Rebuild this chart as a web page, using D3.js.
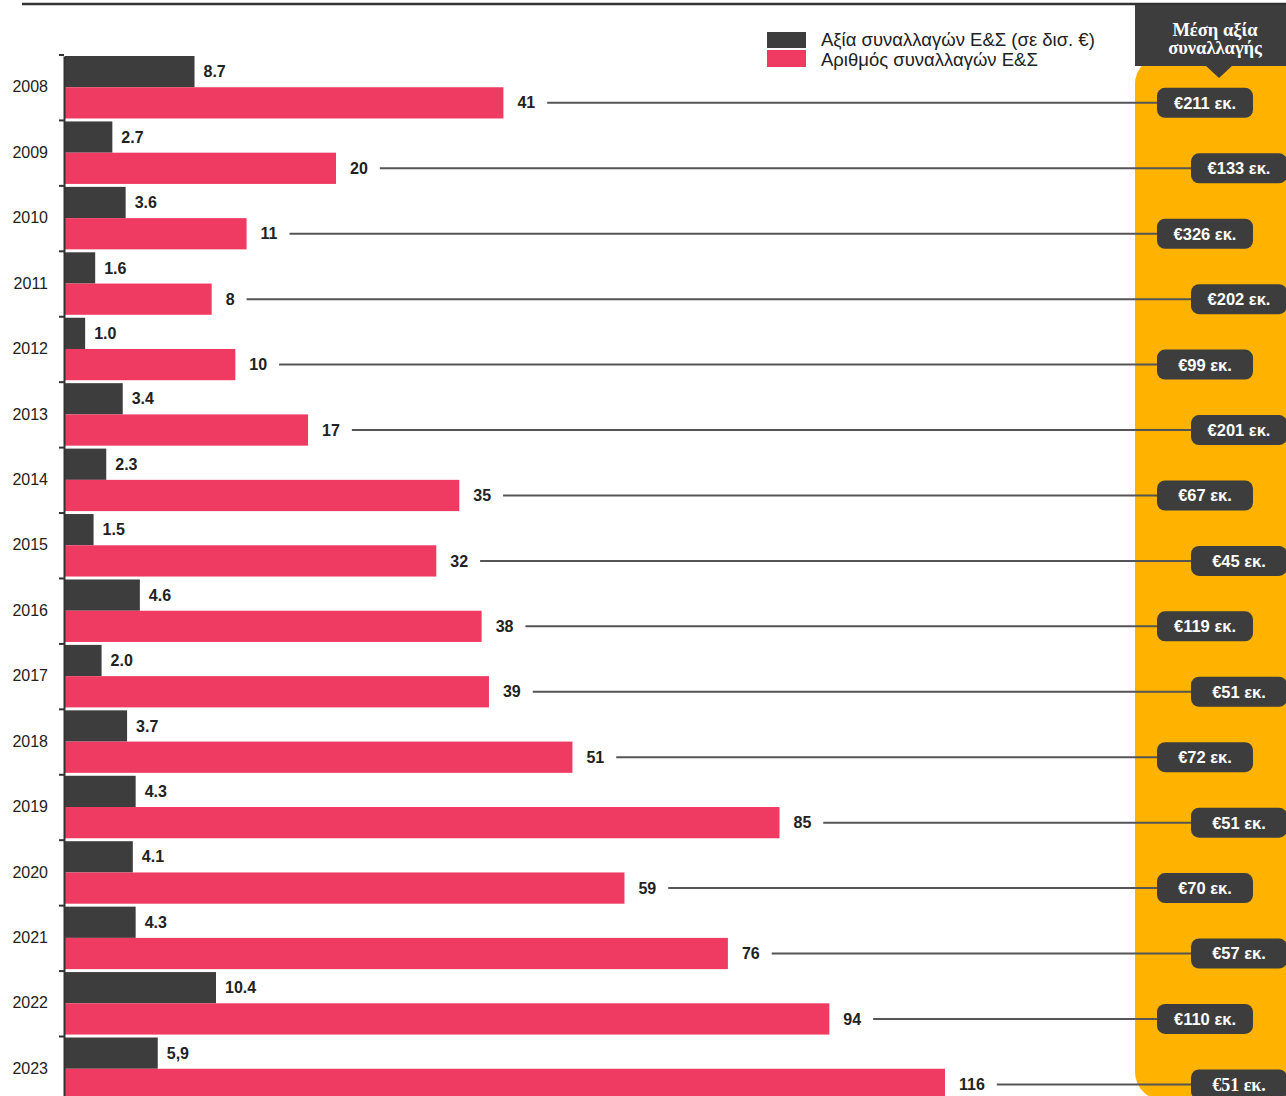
<!DOCTYPE html>
<html>
<head>
<meta charset="utf-8">
<script src="https://cdn.jsdelivr.net/npm/d3@7"></script>
<style>
  body { margin: 0; background: #fff; }
  svg text { font-family: "Liberation Sans", Arial, sans-serif; }
</style>
</head>
<body>
<svg width="1286" height="1096"></svg>
<script>
var years = [2008, 2009, 2010, 2011, 2012, 2013, 2014, 2015, 2016, 2017, 2018, 2019, 2020, 2021, 2022, 2023];
var dealValue = [8.7, 2.7, 3.6, 1.6, 1.0, 3.4, 2.3, 1.5, 4.6, 2.0, 3.7, 4.3, 4.1, 4.3, 10.4, 5.9];
var dealValueLabels = ["8.7", "2.7", "3.6", "1.6", "1.0", "3.4", "2.3", "1.5", "4.6", "2.0", "3.7", "4.3", "4.1", "4.3", "10.4", "5,9"];
var dealCount = [41, 20, 11, 8, 10, 17, 35, 32, 38, 39, 51, 85, 59, 76, 94, 116];
var avgValue = [211, 133, 326, 202, 99, 201, 67, 45, 119, 51, 72, 51, 70, 57, 110, 51];
var legendLabels = ["Αξία συναλλαγών Ε&Σ (σε δισ. €)", "Αριθμός συναλλαγών Ε&Σ"];
var panelTitle = ["Μέση αξία", "συναλλαγής"];

var darkColor = "#3d3d3d", pinkColor = "#ef3a62", panelColor = "#ffb300";

var svg = d3.select("svg");
var data = years.map(function (y, i) {
  return { year: y, value: dealValue[i], valueLabel: dealValueLabels[i], count: dealCount[i], avg: avgValue[i], i: i };
});

var x0 = 65;
var y = d3.scaleBand().domain(years).range([56, 1100]).paddingInner(0.045);
var half = y.bandwidth() / 2;

// the original bars are not drawn to a linear scale, pow scales follow them more closely
var xValue = d3.scalePow().exponent(0.86).domain([0, 10.4]).range([0, 151]);
var xCount = d3.scalePow().exponent(0.67).domain([0, 116]).range([0, 880]);

// top rule
svg.append("line")
  .attr("x1", 22).attr("x2", 1286).attr("y1", 4).attr("y2", 4)
  .attr("stroke", "#333").attr("stroke-width", 2.5);

// yellow panel + header
svg.append("rect")
  .attr("x", 1135).attr("y", 56).attr("width", 220).attr("height", 1044)
  .attr("rx", 28).attr("fill", panelColor);

svg.append("rect")
  .attr("x", 1135).attr("y", 5).attr("width", 160).attr("height", 61)
  .attr("fill", darkColor);
svg.append("path")
  .attr("d", "M1205,65L1233,65L1219,78Z")
  .attr("fill", darkColor);
svg.append("text")
  .attr("x", 1215).attr("y", 36)
  .attr("text-anchor", "middle")
  .style("font-family", "'Liberation Serif', 'DejaVu Serif', serif")
  .style("font-weight", "bold").style("font-size", "18.5px")
  .attr("fill", "#fff")
  .selectAll("tspan").data(panelTitle).enter().append("tspan")
  .attr("x", 1215).attr("dy", function (d, i) { return i ? 18 : 0; })
  .text(function (d) { return d; });

// legend
var legend = svg.append("g");
legend.selectAll("rect").data(legendLabels).enter().append("rect")
  .attr("x", 767).attr("y", function (d, i) { return i ? 50 : 32; })
  .attr("width", 39).attr("height", function (d, i) { return i ? 17 : 16; })
  .attr("fill", function (d, i) { return i ? pinkColor : darkColor; });
legend.selectAll("text").data(legendLabels).enter().append("text")
  .attr("x", 821).attr("y", function (d, i) { return i ? 66 : 45.5; })
  .style("font-size", "18.5px").attr("fill", "#222")
  .text(function (d) { return d; });

// bars
var g = svg.append("g");
g.selectAll("rect.val").data(data).enter().append("rect")
  .attr("class", "val")
  .attr("x", x0).attr("y", function (d) { return y(d.year); })
  .attr("width", function (d) { return xValue(d.value); })
  .attr("height", half)
  .attr("fill", darkColor);

g.selectAll("rect.cnt").data(data).enter().append("rect")
  .attr("class", "cnt")
  .attr("x", x0).attr("y", function (d) { return y(d.year) + half; })
  .attr("width", function (d) { return xCount(d.count); })
  .attr("height", half)
  .attr("fill", pinkColor);

g.selectAll("text.val").data(data).enter().append("text")
  .attr("class", "val")
  .attr("x", function (d) { return x0 + xValue(d.value) + 9; })
  .attr("y", function (d) { return y(d.year) + half / 2; })
  .attr("dy", "0.35em")
  .style("font-size", "16px").style("font-weight", "bold").attr("fill", "#222")
  .text(function (d) { return d.valueLabel; });

var cntLabels = g.selectAll("text.cnt").data(data).enter().append("text")
  .attr("class", "cnt")
  .attr("x", function (d) { return x0 + xCount(d.count) + 14; })
  .attr("y", function (d) { return y(d.year) + half * 1.5; })
  .attr("dy", "0.35em")
  .style("font-size", "16px").style("font-weight", "bold").attr("fill", "#222")
  .text(function (d) { return d.count; });

// leader lines + pills
function pillX(d) { return d.i % 2 ? 1191 : 1157; }

cntLabels.each(function (d) {
  var end = x0 + xCount(d.count) + 14 + this.getComputedTextLength() + 12;
  g.append("line")
    .attr("x1", end).attr("x2", pillX(d) + 2)
    .attr("y1", y(d.year) + half * 1.5).attr("y2", y(d.year) + half * 1.5)
    .attr("stroke", "#555").attr("stroke-width", 2);
});

var pills = g.selectAll("g.pill").data(data).enter().append("g")
  .attr("class", "pill")
  .attr("transform", function (d) { return "translate(" + pillX(d) + "," + (y(d.year) + half * 1.5) + ")"; });
pills.append("rect")
  .attr("x", 0).attr("y", -15).attr("width", 96).attr("height", 30)
  .attr("rx", 8).attr("fill", darkColor);
pills.append("text")
  .attr("x", 48).attr("dy", "0.36em")
  .attr("text-anchor", "middle")
  .style("font-weight", "bold").attr("fill", "#fff")
  .style("font-family", function (d) { return d.year === 2023 ? "'Liberation Serif', serif" : null; })
  .style("font-size", function (d) { return d.year === 2023 ? "18px" : "16.5px"; })
  .text(function (d) { return "€" + d.avg + " εκ."; });

// y axis
var axis = svg.append("g")
  .attr("transform", "translate(" + (x0 - 1) + ",0)")
  .call(d3.axisLeft(y).tickSize(0).tickSizeOuter(0).tickPadding(16));
axis.select(".domain").attr("stroke", "#333").attr("stroke-width", 2);
axis.selectAll(".tick text")
  .style("font-size", "16px").attr("fill", "#222")
  .style("font-family", "'Liberation Sans', Arial, sans-serif");
axis.selectAll("line.mark").data(years).enter().append("line")
  .attr("class", "mark")
  .attr("x1", -5).attr("x2", 0)
  .attr("y1", function (d) { return y(d) - 1; }).attr("y2", function (d) { return y(d) - 1; })
  .attr("stroke", "#333").attr("stroke-width", 2);
</script>
</body>
</html>
